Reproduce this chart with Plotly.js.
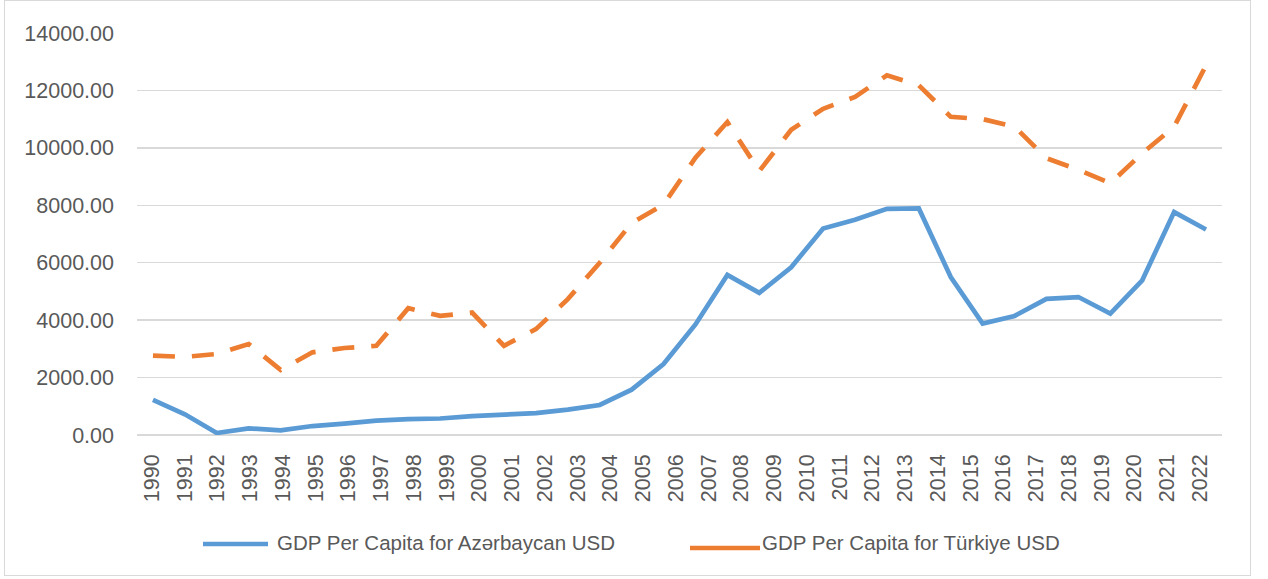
<!DOCTYPE html>
<html>
<head>
<meta charset="utf-8">
<script src="https://cdn.plot.ly/plotly-3.0.1.min.js"></script>
<style>
  html, body { margin: 0; padding: 0; background: #ffffff; }
  #wrap { position: relative; width: 1268px; height: 579px; }
  #chart { position: absolute; left: 0; top: 0; width: 1268px; height: 579px; }
  #frame { position: absolute; left: 4px; top: 0px; width: 1247px; height: 576px;
           border: 1.5px solid #D9D9D9; pointer-events: none; box-sizing: border-box; }
</style>
</head>
<body>
<div id="wrap">
  <div id="chart"></div>
  <div id="frame"></div>
</div>
<script>
// ---- data ----
const years = [1990, 1991, 1992, 1993, 1994, 1995, 1996, 1997, 1998, 1999,
               2000, 2001, 2002, 2003, 2004, 2005, 2006, 2007, 2008, 2009,
               2010, 2011, 2012, 2013, 2014, 2015, 2016, 2017, 2018, 2019,
               2020, 2021, 2022, 2023];
const tickYears = [1990, 1991, 1992, 1993, 1994, 1995, 1996, 1997, 1998, 1999,
                   2000, 2001, 2002, 2003, 2004, 2005, 2006, 2007, 2008, 2009,
                   2010, 2011, 2012, 2013, 2014, 2015, 2016, 2017, 2018, 2019,
                   2020, 2021, 2022];
const tickLabels = ["1990", "1991", "1992", "1993", "1994", "1995", "1996", "1997", "1998", "1999",
                    "2000", "2001", "2002", "2003", "2004", "2005", "2006", "2007", "2008", "2009",
                    "2010", "2011", "2012", "2013", "2014", "2015", "2016", "2017", "2018", "2019",
                    "2020", "2021", "2022"];
const azerbaijan = [1227, 720, 70, 232, 163, 312, 395, 499, 555, 575,
                    655, 703, 763, 883, 1045, 1578, 2473, 3851, 5575, 4950,
                    5843, 7190, 7496, 7876, 7891, 5500, 3880, 4147, 4740, 4805,
                    4229, 5388, 7762, 7155];
const turkiye = [2762, 2720, 2821, 3168, 2267, 2880, 3029, 3109, 4416, 4149,
                 4264, 3109, 3688, 4731, 6000, 7383, 8021, 9657, 10900, 9190,
                 10630, 11360, 11775, 12527, 12180, 11081, 11001, 10735, 9636, 9234,
                 8770, 9809, 10735, 12873];
const yTicks = [0, 2000, 4000, 6000, 8000, 10000, 12000, 14000];
const seriesNames = ["GDP Per Capita for Azərbaycan USD", "GDP Per Capita for Türkiye USD"];
const colors = ["#5B9BD5", "#ED7D31"];

// ---- layout geometry ----
const W = 1268, H = 579;
const plotL = 137, plotR = 1222, plotT = 33, plotB = 435;
const pw = plotR - plotL, ph = plotB - plotT;
const px2paperX = p => (p - plotL) / pw;
const py2paperY = p => (plotB - p) / ph;

const font = "Liberation Sans, Arial, sans-serif";
const textColor = "#595959";

const traces = [
  {
    x: years, y: azerbaijan, type: "scatter", mode: "lines",
    name: seriesNames[0], showlegend: false,
    line: { color: colors[0], width: 4.7 },
    xaxis: "x", yaxis: "y", hoverinfo: "x+y"
  },
  {
    x: years, y: turkiye, type: "scatter", mode: "lines",
    name: seriesNames[1], showlegend: false,
    line: { color: colors[1], width: 4.7, dash: "22px,17px" },
    xaxis: "x", yaxis: "y", hoverinfo: "x+y"
  },
  // invisible helper so the label axis is built
  {
    x: [tickYears[0]], y: [null], type: "scatter", mode: "none",
    showlegend: false, hoverinfo: "skip", xaxis: "x2", yaxis: "y"
  }
];

// label axis range: first label at x=152, last at x=1200 (as in the reference)
const lab0 = 152, labN = 1200;
const step = (labN - lab0) / (tickYears.length - 1);
const x2min = tickYears[0] - (lab0 - plotL) / step;
const x2max = tickYears[tickYears.length - 1] + (plotR - labN) / step;

const layout = {
  width: W, height: H,
  margin: { l: plotL, r: W - plotR, t: plotT, b: H - plotB, pad: 0 },
  paper_bgcolor: "#ffffff",
  plot_bgcolor: "#ffffff",
  showlegend: false,
  font: { family: font, color: textColor },
  xaxis: {
    type: "linear",
    range: [years[0] - 0.5, years[years.length - 1] + 0.5],
    showticklabels: false, showgrid: false, zeroline: false,
    showline: false, ticks: "", fixedrange: true
  },
  xaxis2: {
    overlaying: "x", anchor: "y", side: "bottom",
    type: "linear",
    range: [x2min, x2max],
    tickmode: "array", tickvals: tickYears, ticktext: tickLabels,
    tickangle: -90,
    tickfont: { family: font, size: 21.5, color: textColor },
    ticklabelstandoff: 14,
    showgrid: false, zeroline: false, showline: false, ticks: "", fixedrange: true
  },
  yaxis: {
    range: [0, 14000],
    tickmode: "array", tickvals: yTicks,
    ticktext: yTicks.map(v => v.toFixed(2)),
    tickfont: { family: font, size: 21.5, color: textColor },
    ticklabelstandoff: 22,
    showgrid: true, gridcolor: "#D9D9D9", gridwidth: 1.5,
    zeroline: true, zerolinecolor: "#D9D9D9", zerolinewidth: 1.5,
    showline: false, ticks: "", fixedrange: true
  },
  shapes: [
    {
      type: "line", xref: "paper", yref: "paper",
      x0: px2paperX(203), x1: px2paperX(268),
      y0: py2paperY(544), y1: py2paperY(544),
      line: { color: colors[0], width: 4.5 }
    },
    {
      type: "line", xref: "paper", yref: "paper",
      x0: px2paperX(690), x1: px2paperX(760),
      y0: py2paperY(548), y1: py2paperY(548),
      line: { color: colors[1], width: 4.5 }
    }
  ],
  annotations: [
    {
      xref: "paper", yref: "paper",
      x: px2paperX(275), y: py2paperY(542),
      xanchor: "left", yanchor: "middle", showarrow: false,
      text: seriesNames[0],
      font: { family: font, size: 20.5, color: textColor }
    },
    {
      xref: "paper", yref: "paper",
      x: px2paperX(760), y: py2paperY(542),
      xanchor: "left", yanchor: "middle", showarrow: false,
      text: seriesNames[1],
      font: { family: font, size: 20.5, color: textColor }
    }
  ]
};

Plotly.newPlot("chart", traces, layout, { displayModeBar: false, staticPlot: true });
</script>
</body>
</html>
